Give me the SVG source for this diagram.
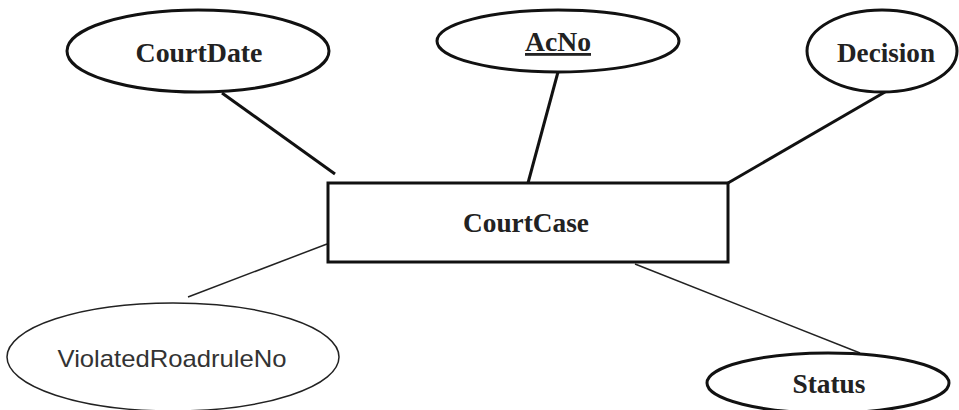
<svg xmlns="http://www.w3.org/2000/svg" width="959" height="410" viewBox="0 0 959 410">
<style>
.bg{fill:#ffffff}
.attr{fill:#ffffff;stroke:#111;stroke-width:3}
.attr-thin{fill:#ffffff;stroke:#222;stroke-width:1.5}
.ent{fill:#ffffff;stroke:#111;stroke-width:3}
.lbl{font-family:"Liberation Serif","Times New Roman",serif;font-weight:bold;font-size:28px;fill:#222;text-anchor:middle}
.lbl-sans{font-family:"Liberation Sans",Arial,sans-serif;font-size:24px;fill:#333;text-anchor:middle}
.conn{stroke:#111;stroke-width:3;fill:none}
.conn-thin{stroke:#222;stroke-width:1.5;fill:none}
</style>
<rect class="bg" x="0" y="0" width="959" height="410"/>
<g id="connectors">
<line class="conn" x1="222" y1="93" x2="335" y2="174"/>
<line class="conn" x1="558" y1="72" x2="528" y2="183"/>
<line class="conn" x1="885" y1="92" x2="728" y2="183"/>
<line class="conn-thin" x1="327" y1="244" x2="188" y2="297"/>
<line class="conn-thin" x1="635" y1="264" x2="860" y2="353"/>
</g>
<g id="CourtCase">
<rect class="ent" x="328" y="183" width="400" height="79"/>
<text class="lbl" x="526" y="232" textLength="126" lengthAdjust="spacingAndGlyphs">CourtCase</text>
</g>
<g id="CourtDate">
<ellipse class="attr" cx="198" cy="51" rx="131" ry="41"/>
<text class="lbl" x="199" y="62" textLength="127" lengthAdjust="spacingAndGlyphs">CourtDate</text>
</g>
<g id="AcNo">
<ellipse class="attr" cx="558" cy="41" rx="121" ry="31"/>
<text class="lbl" x="558" y="51" text-decoration="underline" textLength="66" lengthAdjust="spacingAndGlyphs">AcNo</text>
</g>
<g id="Decision">
<ellipse class="attr" cx="882" cy="51" rx="75" ry="41"/>
<text class="lbl" x="886" y="62" textLength="98" lengthAdjust="spacingAndGlyphs">Decision</text>
</g>
<g id="ViolatedRoadruleNo">
<ellipse class="attr-thin" cx="173" cy="357" rx="166" ry="54"/>
<text class="lbl-sans" x="172" y="367" textLength="229" lengthAdjust="spacingAndGlyphs">ViolatedRoadruleNo</text>
</g>
<g id="Status">
<ellipse class="attr" cx="828" cy="383" rx="121" ry="30"/>
<text class="lbl" x="829" y="393" textLength="73" lengthAdjust="spacingAndGlyphs">Status</text>
</g>
</svg>
